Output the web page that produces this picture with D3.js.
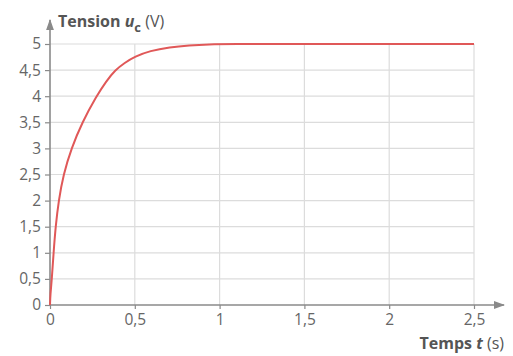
<!DOCTYPE html>
<html><head><meta charset="utf-8">
<script src="https://cdn.jsdelivr.net/npm/d3@7"></script>
<style>body{margin:0;background:#fff}svg{display:block}</style>
</head><body>
<svg id="c" width="513" height="356"></svg>
<script>
const xTicks = [0, 0.5, 1, 1.5, 2, 2.5];
const xTickLabels = ["0", "0,5", "1", "1,5", "2", "2,5"];
const yTicks = [0, 0.5, 1, 1.5, 2, 2.5, 3, 3.5, 4, 4.5, 5];
const yTickLabels = ["0", "0,5", "1", "1,5", "2", "2,5", "3", "3,5", "4", "4,5", "5"];
const timeS = [0, 0.002, 0.011, 0.021, 0.033, 0.051, 0.079, 0.126, 0.19, 0.274, 0.33, 0.384, 0.44, 0.5, 0.59, 0.706, 0.82, 0.94, 1.05, 1.5, 2.0, 2.5];
const tensionV = [0, 0.2, 0.5, 1, 1.5, 2, 2.5, 3, 3.5, 4, 4.28, 4.5, 4.64, 4.76, 4.87, 4.94, 4.975, 4.995, 5, 5, 5, 5];

const svg = d3.select("#c");
const x = d3.scaleLinear().domain([0, 2.5]).range([50, 474]);
const y = d3.scaleLinear().domain([0, 5]).range([305, 44]);
const textCol = "#666";
const axisCol = "#8a8a8a";
const gridCol = "#dcdcdc";
const font = "'Open Sans', sans-serif";

// grid
svg.append("g").selectAll("line").data(yTicks.slice(1)).join("line")
  .attr("x1", x(0)).attr("x2", x(2.5)).attr("y1", d => y(d)).attr("y2", d => y(d))
  .attr("stroke", gridCol).attr("stroke-width", 1.2);
svg.append("g").selectAll("line").data(xTicks.slice(1)).join("line")
  .attr("x1", d => x(d)).attr("x2", d => x(d)).attr("y1", y(0)).attr("y2", y(5))
  .attr("stroke", gridCol).attr("stroke-width", 1.2);

// y axis
const yAxis = d3.axisLeft(y).tickValues(yTicks).tickFormat((d, i) => yTickLabels[i]).tickSize(5).tickPadding(4);
const gy = svg.append("g").attr("transform", `translate(${x(0)},0)`).call(yAxis);
gy.select(".domain").remove();
gy.selectAll(".tick line").attr("stroke", axisCol).attr("stroke-width", 1.2);
gy.selectAll(".tick text").attr("fill", textCol).style("font-family", font).style("font-size", "15.5px");

// x axis
const xAxis = d3.axisBottom(x).tickValues(xTicks).tickFormat((d, i) => xTickLabels[i]).tickSize(4).tickPadding(5);
const gx = svg.append("g").attr("transform", `translate(0,${y(0)})`).call(xAxis);
gx.select(".domain").remove();
gx.selectAll(".tick line").attr("stroke", axisCol).attr("stroke-width", 1.2);
gx.selectAll(".tick text").attr("fill", textCol).style("font-family", font).style("font-size", "15.5px");

// axis lines with arrows
svg.append("defs").append("marker").attr("id", "arr").attr("viewBox", "0 0 10 10")
  .attr("refX", 9).attr("refY", 5).attr("markerWidth", 7).attr("markerHeight", 7).attr("orient", "auto")
  .append("path").attr("d", "M0,1.5 L10,5 L0,8.5 Z").attr("fill", axisCol);
svg.append("line").attr("x1", x(0)).attr("x2", 504).attr("y1", y(0)).attr("y2", y(0))
  .attr("stroke", axisCol).attr("stroke-width", 1.6).attr("marker-end", "url(#arr)");
svg.append("line").attr("x1", x(0)).attr("x2", x(0)).attr("y1", y(0)).attr("y2", 20)
  .attr("stroke", axisCol).attr("stroke-width", 1.6).attr("marker-end", "url(#arr)");

// curve
const line = d3.line().x((d, i) => x(timeS[i])).y(d => y(d)).curve(d3.curveBasis);
svg.append("path").attr("d", line(tensionV)).attr("fill", "none")
  .attr("stroke", "#e05858").attr("stroke-width", 2);

// titles
const yt = svg.append("text").attr("x", 58).attr("y", 27).attr("fill", "#555")
  .style("font-family", font).style("font-size", "16px").style("font-weight", "bold");
yt.append("tspan").text("Tension ");
yt.append("tspan").text("u").style("font-style", "italic");
yt.append("tspan").text("c").attr("dy", 5).style("font-size", "13px");
yt.append("tspan").text(" (V)").attr("dy", -5).style("font-weight", "normal");

const xt = svg.append("text").attr("x", 504).attr("y", 349).attr("text-anchor", "end").attr("fill", "#555")
  .style("font-family", font).style("font-size", "16px").style("font-weight", "bold");
xt.append("tspan").text("Temps ");
xt.append("tspan").text("t").style("font-style", "italic");
xt.append("tspan").text(" (s)").style("font-weight", "normal");
</script>
</body></html>
